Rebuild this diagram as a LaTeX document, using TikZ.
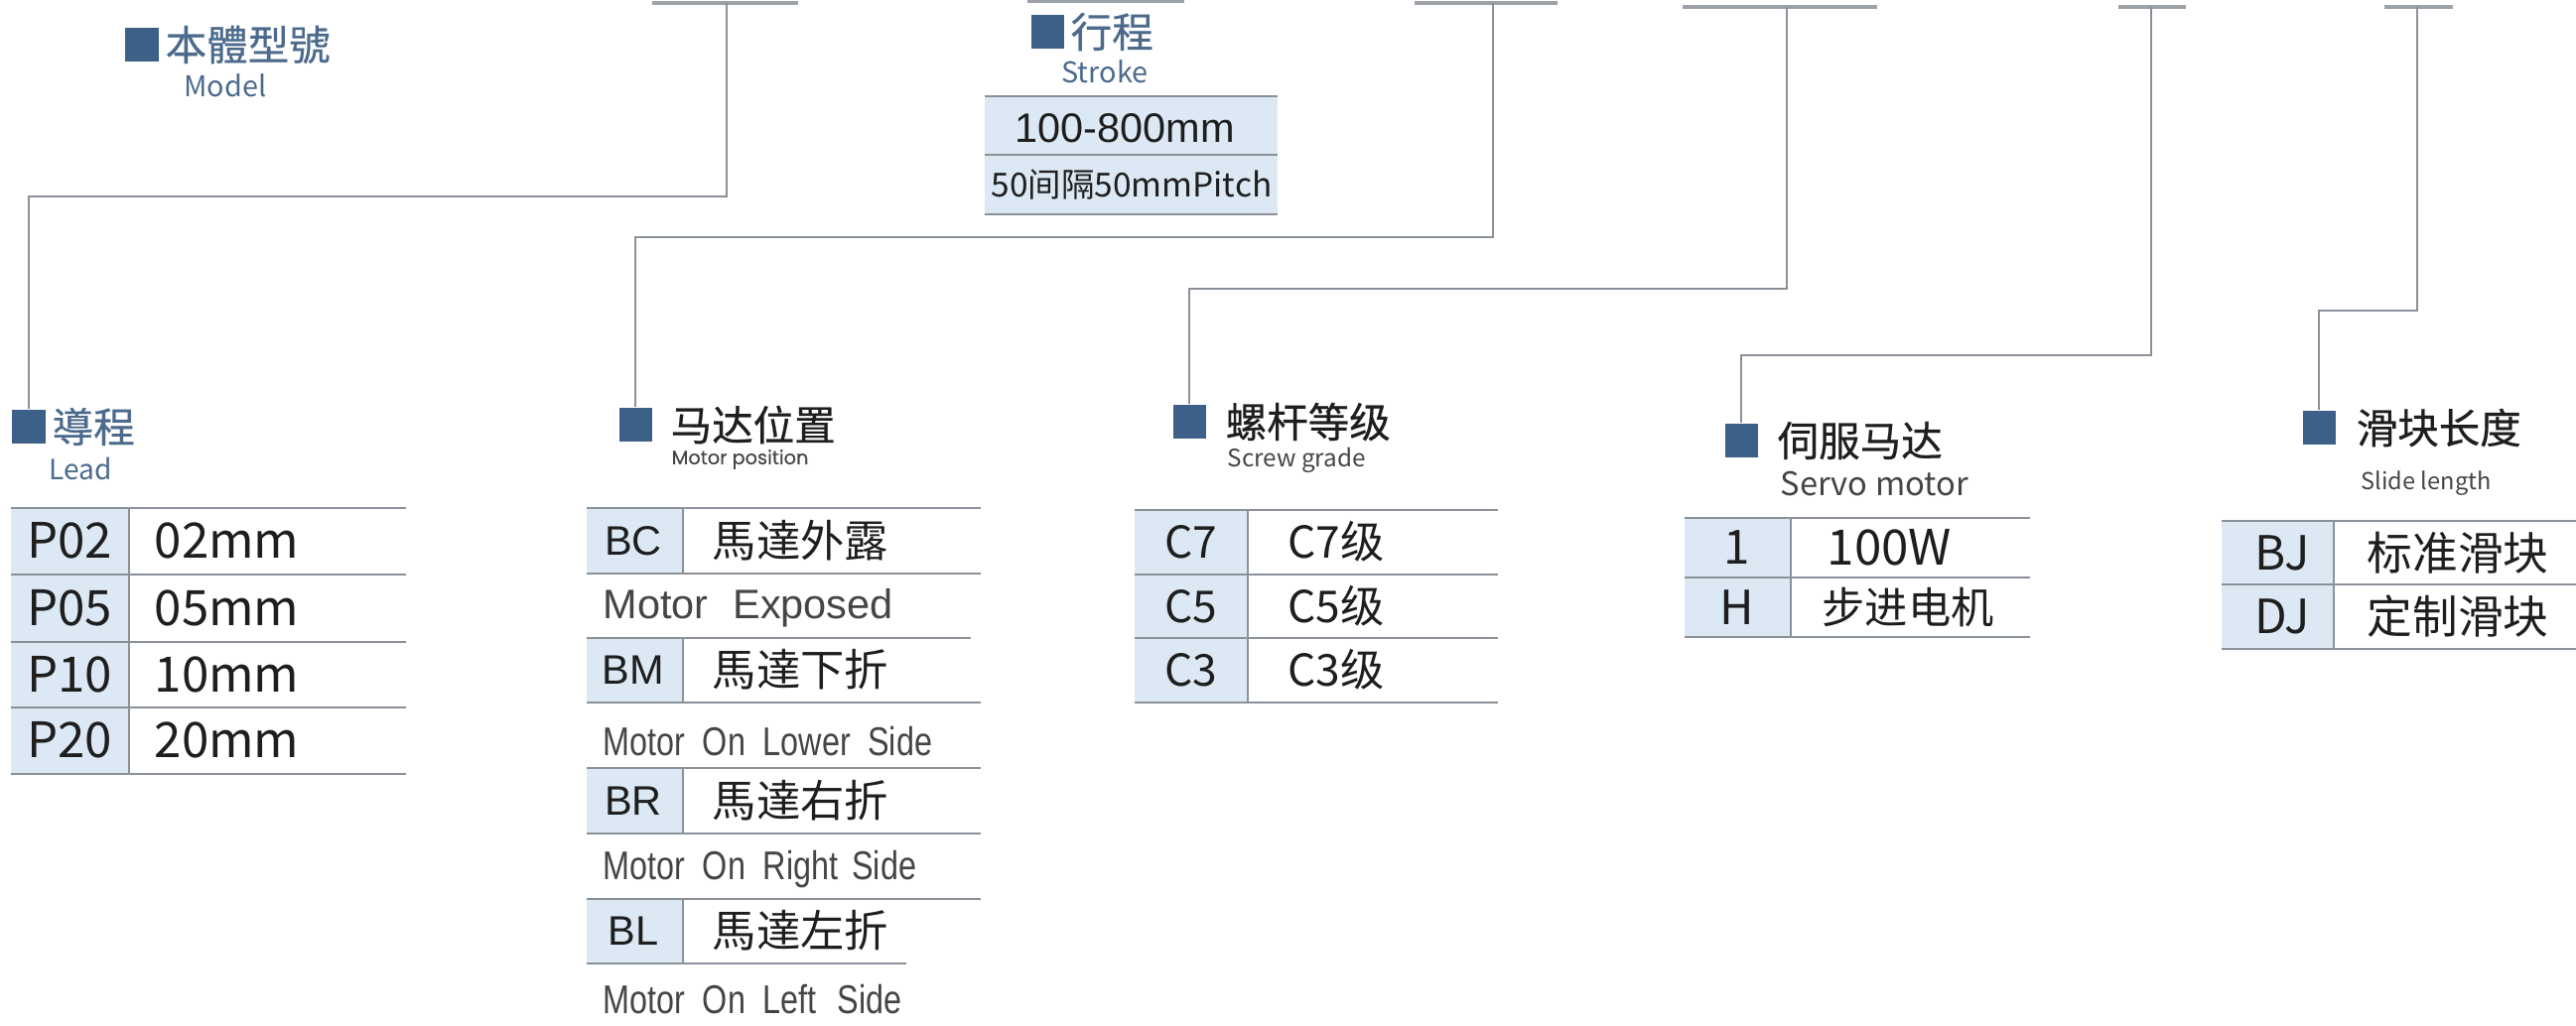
\documentclass[tikz,border=0pt]{standalone}
\usepackage{fontspec}
\setmainfont{Noto Sans CJK SC}
\newfontfamily\headfont[FakeBold=0.5]{Noto Sans CJK SC}
\newfontfamily\arialfont{Liberation Sans}
\newfontfamily\narrowfont[FakeStretch=0.8]{Liberation Sans}
\newfontfamily\geofont[FakeBold=0.4]{Poppins}
\usetikzlibrary{positioning}
\definecolor{sqblue}{HTML}{3D6089}
\definecolor{headblue}{HTML}{4B6A8C}
\definecolor{cellblue}{HTML}{DCE9F4}
\definecolor{rulegray}{HTML}{8A9199}
\definecolor{inkgray}{HTML}{1E1E1E}
\definecolor{subgray}{HTML}{454545}

\begin{document}
\begin{tikzpicture}[x=0.01cm, y=-0.01cm]

      \tikzset{marker/.style={fill=sqblue, inner sep=0pt, minimum width=0.33cm, minimum height=0.34cm},
               head/.style={anchor=west, inner sep=0pt, font=\headfont\fontsize{11.8}{12}\selectfont, text=inkgray},
               sub/.style={inner sep=0pt, font=\fontsize{8.2}{9}\selectfont, text=subgray},
               code/.style={inner sep=0pt, font=\fontsize{12.6}{13}\selectfont, text=inkgray},
               val/.style={anchor=west, inner sep=0pt, font=\fontsize{12.6}{13}\selectfont, text=inkgray},
               eng/.style={anchor=west, inner sep=0pt, font=\narrowfont\fontsize{11.5}{12}\selectfont, text=subgray},
               wire/.style={draw=rulegray, line width=0.7pt},
               bar/.style={draw=rulegray!85, line width=1.1pt},
               rule/.style={draw=rulegray, line width=0.8pt},
               cell/.style={fill=cellblue}}

      \useasboundingbox (0,0) rectangle (2595,1033);

%% Bars of the model code
      	\draw[bar] (657,3) -- (804,3);
      	\draw[bar] (1035,1) -- (1193,1);
      	\draw[bar] (1425,3) -- (1569,3);
      	\draw[bar] (1695,7) -- (1891,7);
      	\draw[bar] (2134,7) -- (2202,7);
      	\draw[bar] (2402,7) -- (2471,7);
      	\coordinate (codeLead) at (732,3);
      	\coordinate (codeMotor) at (1504,3);
      	\coordinate (codeScrew) at (1800,7);
      	\coordinate (codeServo) at (2167,7);
      	\coordinate (codeSlide) at (2435,7);

%% Headings
      	\node[marker] (sqModel) at (143,45) {};
      	\node[head, text=headblue] (hModel) at (166,45) {本體型號};
      	\node[sub, text=headblue] (sModel) at (227,86) {Model};

      	\node[marker] (sqStroke) at (1055,32) {};
      	\node[head, text=headblue] (hStroke) at (1078,32) {行程};
      	\node[sub, text=headblue] (sStroke) at (1113,72) {Stroke};

      	\node[marker] (sqLead) at (29,430) {};
      	\node[head, text=headblue] (hLead) at (52,430) {導程};
      	\node[sub, text=headblue, font=\fontsize{8}{9}\selectfont] (sLead) at (81,472) {Lead};

      	\node[marker] (sqMotor) at (640,428) {};
      	\node[head] (hMotor) at (675,428) {马达位置};
      	\node[sub, anchor=west, font=\geofont\fontsize{5.5}{6}\selectfont] (sMotor) at (676,463) {Motor position};

      	\node[marker] (sqScrew) at (1198,425) {};
      	\node[head] (hScrew) at (1234,425) {螺杆等级};
      	\node[sub, anchor=west, font=\fontsize{6.9}{7}\selectfont] (sScrew) at (1236,464) {Screw grade};

      	\node[marker] (sqServo) at (1754,444) {};
      	\node[head] (hServo) at (1790,444) {伺服马达};
      	\node[sub, anchor=west, font=\fontsize{9.3}{10}\selectfont] (sServo) at (1793,488) {Servo motor};

      	\node[marker] (sqSlide) at (2336,431) {};
      	\node[head] (hSlide) at (2373,431) {滑块长度};
      	\node[sub, anchor=west, font=\fontsize{6.7}{7}\selectfont] (sSlide) at (2378,487) {Slide length};

%% Connectors
      	\draw[wire] (codeLead) -- ++(0,195) -| (sqLead.north);
      	\draw[wire] (codeMotor) -- ++(0,236) -| (sqMotor.north);
      	\draw[wire] (codeScrew) -- ++(0,284) -| (sqScrew.north);
      	\draw[wire] (codeServo) -- ++(0,351) -| (sqServo.north);
      	\draw[wire] (codeSlide) -- ++(0,306) -| (sqSlide.north);

%% Stroke table
      	\fill[cell] (992,97) rectangle (1287,216);
      	\draw[rule] (992,97) -- (1287,97) (992,156) -- (1287,156) (992,216) -- (1287,216);
      	\node[code, font=\arialfont\fontsize{11.8}{12}\selectfont] (st1) at (1133,129) {100-800mm};
      	\node[code, font=\fontsize{9.5}{10}\selectfont] (st2) at (1140,186) {50间隔50mmPitch};

%% Lead table
      	\fill[cell] (11,512) rectangle (130,780);
      	\draw[rule] (11,512) -- (409,512) (11,579) -- (409,579) (11,647) -- (409,647)
      	            (11,713) -- (409,713) (11,780) -- (409,780);
      	\draw[rule, line width=0.5pt] (130,512) -- (130,780);
      	\node[code, font=\fontsize{14}{15}\selectfont] (lc1) at (70,545) {P02};
      	\node[code, font=\fontsize{14}{15}\selectfont] (lc2) at (70,613) {P05};
      	\node[code, font=\fontsize{14}{15}\selectfont] (lc3) at (70,680) {P10};
      	\node[code, font=\fontsize{14}{15}\selectfont] (lc4) at (70,746) {P20};
      	\node[val, font=\fontsize{14}{15}\selectfont] (lv1) at (155,545) {02mm};
      	\node[val, font=\fontsize{14}{15}\selectfont] (lv2) at (155,613) {05mm};
      	\node[val, font=\fontsize{14}{15}\selectfont] (lv3) at (155,680) {10mm};
      	\node[val, font=\fontsize{14}{15}\selectfont] (lv4) at (155,746) {20mm};

%% Motor table
      	\fill[cell] (591,512) rectangle (688,578);
      	\fill[cell] (591,643) rectangle (688,708);
      	\fill[cell] (591,774) rectangle (688,840);
      	\fill[cell] (591,906) rectangle (688,971);
      	\draw[rule] (591,512) -- (988,512) (591,578) -- (988,578)
      	            (591,643) -- (978,643) (591,708) -- (988,708)
      	            (591,774) -- (988,774) (591,840) -- (988,840)
      	            (591,906) -- (988,906) (591,971) -- (913,971);
      	\draw[rule, line width=0.5pt] (688,512) -- (688,578) (688,643) -- (688,708)
      	            (688,774) -- (688,840) (688,906) -- (688,971);
      	\node[code, font=\arialfont\fontsize{11.8}{12}\selectfont] (mc1) at (638,545) {BC};
      	\node[code, font=\arialfont\fontsize{11.8}{12}\selectfont] (mc2) at (638,675) {BM};
      	\node[code, font=\arialfont\fontsize{11.8}{12}\selectfont] (mc3) at (638,807) {BR};
      	\node[code, font=\arialfont\fontsize{11.8}{12}\selectfont] (mc4) at (638,938) {BL};
      	\node[val] (mv1) at (717,545) {馬達外露};
      	\node[val] (mv2) at (717,675) {馬達下折};
      	\node[val] (mv3) at (717,807) {馬達右折};
      	\node[val] (mv4) at (717,938) {馬達左折};
      	\node[eng, font=\arialfont\fontsize{11.8}{12}\selectfont] (me1) at (607,613) {Motor\hspace{7pt}Exposed};
      	\node[eng] (me2) at (607,747) {Motor\hspace{5pt}On\hspace{5pt}Lower\hspace{5pt}Side};
      	\node[eng] (me3) at (607,876) {Motor\hspace{5pt}On\hspace{5pt}Right\hspace{4pt}Side};
      	\node[eng] (me4) at (607,1007) {Motor\hspace{5pt}On\hspace{5pt}Left\hspace{6pt}Side};

%% Screw table
      	\fill[cell] (1143,514) rectangle (1257,708);
      	\draw[rule] (1143,514) -- (1509,514) (1143,579) -- (1509,579)
      	            (1143,643) -- (1509,643) (1143,708) -- (1509,708);
      	\draw[rule, line width=0.5pt] (1257,514) -- (1257,708);
      	\node[code] (gc1) at (1200,546) {C7};
      	\node[code] (gc2) at (1200,611) {C5};
      	\node[code] (gc3) at (1200,675) {C3};
      	\node[val] (gv1) at (1297,546) {C7级};
      	\node[val] (gv2) at (1297,611) {C5级};
      	\node[val] (gv3) at (1297,675) {C3级};

%% Servo table
      	\fill[cell] (1697,522) rectangle (1804,642);
      	\draw[rule] (1697,522) -- (2045,522) (1697,582) -- (2045,582) (1697,642) -- (2045,642);
      	\draw[rule, line width=0.5pt] (1804,522) -- (1804,642);
      	\node[code, font=\fontsize{13.5}{14}\selectfont] (vc1) at (1750,552) {1};
      	\node[code, font=\fontsize{13.5}{14}\selectfont] (vc2) at (1750,612) {H};
      	\node[val, font=\fontsize{14}{15}\selectfont] (vv1) at (1840,552) {100W};
      	\node[val, font=\fontsize{12.3}{13}\selectfont] (vv2) at (1835,612) {步进电机};

%% Slide table
      	\fill[cell] (2238,525) rectangle (2351,654);
      	\draw[rule] (2238,525) -- (2595,525) (2238,589) -- (2595,589) (2238,654) -- (2595,654);
      	\draw[rule, line width=0.5pt] (2351,525) -- (2351,654);
      	\node[code, font=\fontsize{13.5}{14}\selectfont] (dc1) at (2299,557) {BJ};
      	\node[code, font=\fontsize{13.5}{14}\selectfont] (dc2) at (2299,621) {DJ};
      	\node[val, font=\fontsize{13}{14}\selectfont] (dv1) at (2384,557) {标准滑块};
      	\node[val, font=\fontsize{13}{14}\selectfont] (dv2) at (2384,621) {定制滑块};

	\end{tikzpicture}
\end{document}
